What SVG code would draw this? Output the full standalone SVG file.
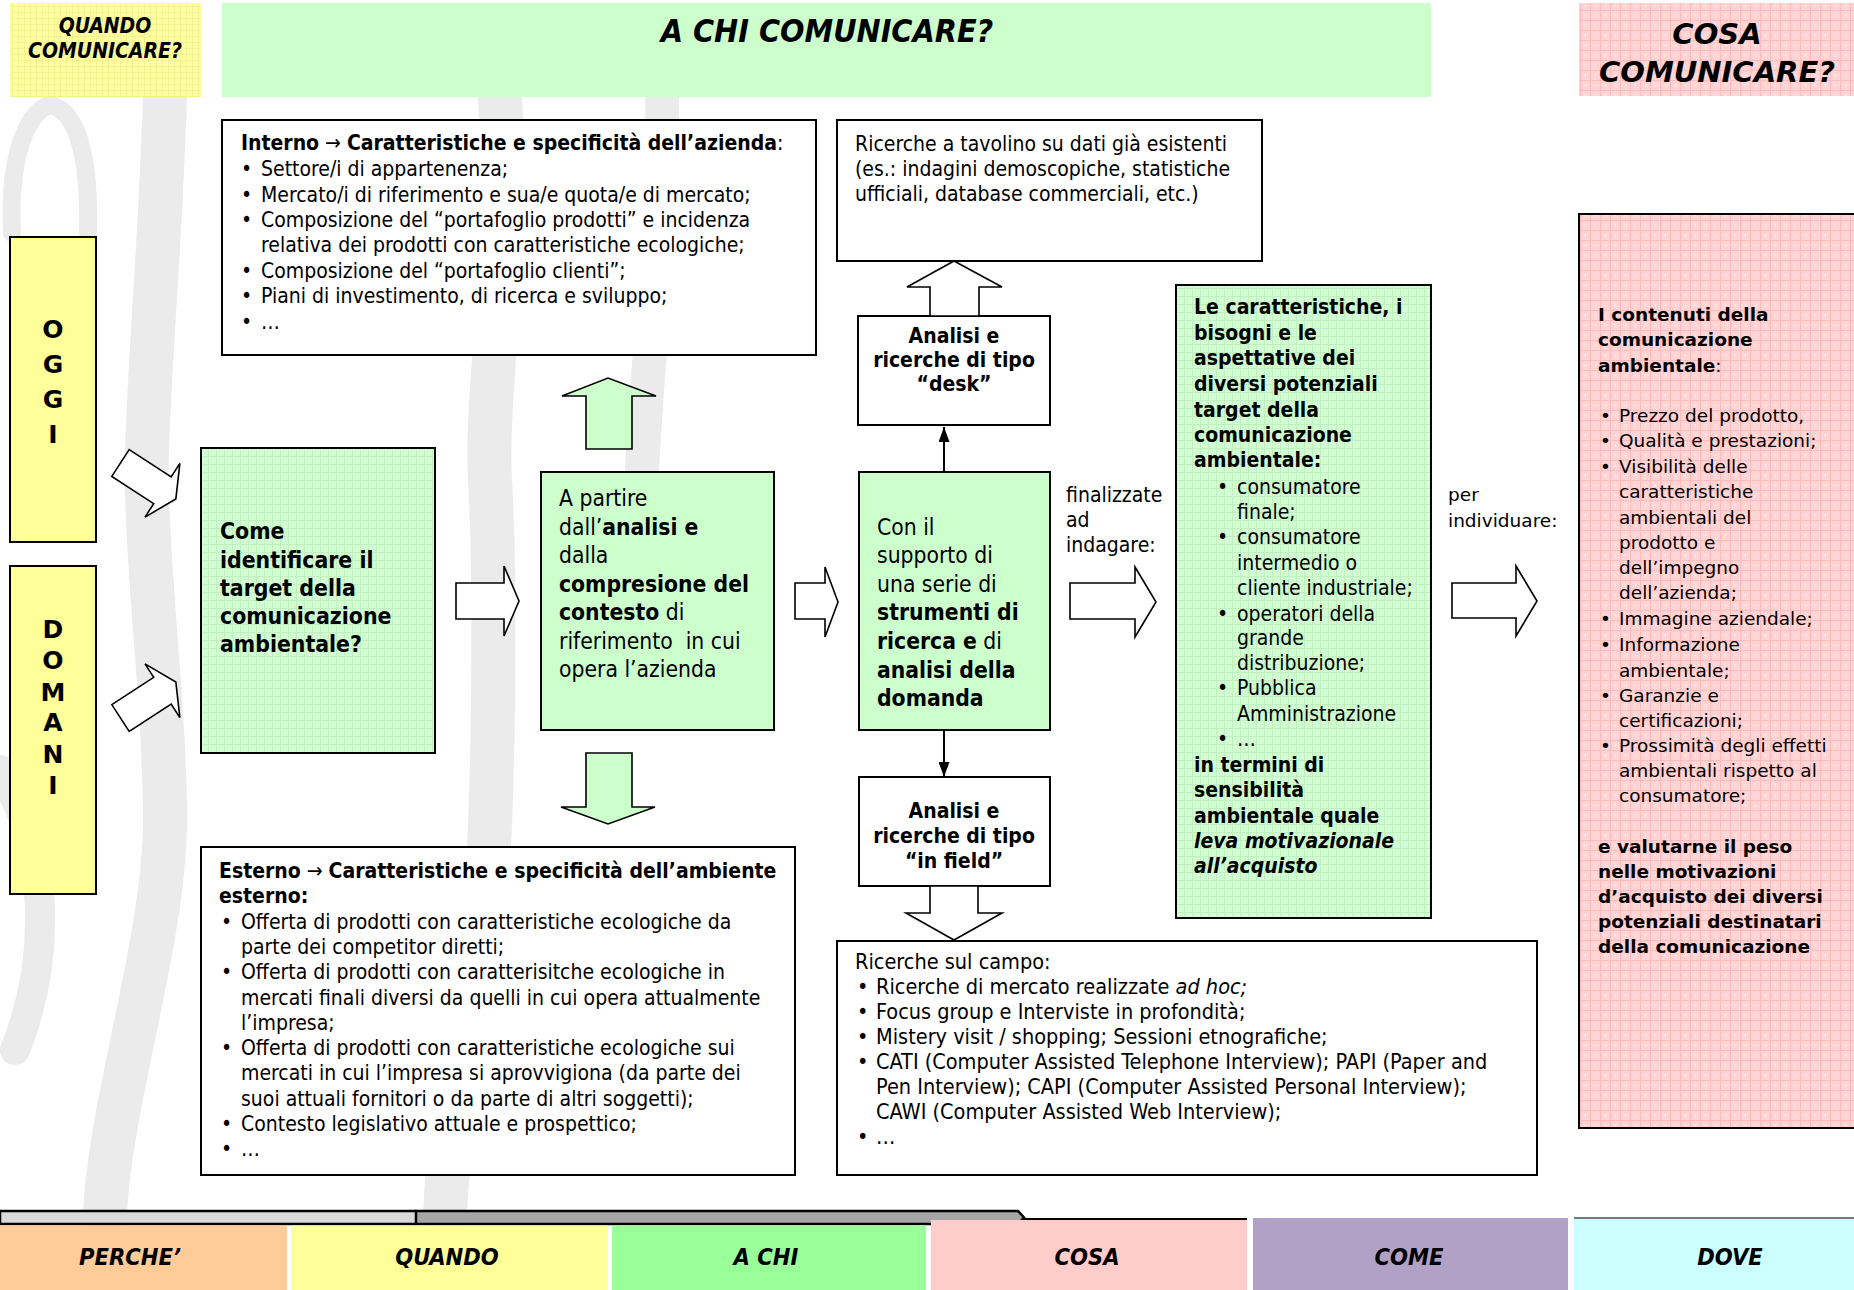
<svg xmlns="http://www.w3.org/2000/svg" width="1854" height="1290" viewBox="0 0 1854 1290">
<defs>
  <pattern id="pg" width="8" height="8" patternUnits="userSpaceOnUse"><rect width="8" height="8" fill="#d2fcd2"/><path d="M0 0.5H8M0.5 0V8" stroke="#c0f0c0" stroke-width="1"/></pattern>
  <pattern id="pp" width="10" height="10" patternUnits="userSpaceOnUse"><rect width="10" height="10" fill="#ffd4d4"/><path d="M0 0.5H10M0.5 0V10" stroke="#ffbcbc" stroke-width="1"/><circle cx="5.5" cy="5.5" r="0.9" fill="#ffffff" opacity="0.6"/></pattern>
  <pattern id="py" width="6" height="6" patternUnits="userSpaceOnUse"><rect width="6" height="6" fill="#ffffa0"/><path d="M0 0.5H6M0.5 0V6" stroke="#f2f290" stroke-width="1"/></pattern>
  <marker id="ah" viewBox="0 0 10 10" refX="10" refY="5" markerWidth="15" markerHeight="11" markerUnits="userSpaceOnUse" orient="auto" preserveAspectRatio="none"><path d="M0,0 L10,5 L0,10 z" fill="#000"/></marker>
</defs>
<style>
  .t{font-family:'DejaVu Sans Condensed','DejaVu Sans','Liberation Sans',sans-serif;font-stretch:condensed;font-size:21px;fill:#000}
  .v{font-family:'DejaVu Sans','Liberation Sans',sans-serif;font-size:18.5px;fill:#000}
  .b{font-weight:bold}
  .i{font-style:italic}
  .box{stroke:#000;stroke-width:2}
  .blk{fill:#fff;stroke:#000;stroke-width:1.6;stroke-linejoin:miter}
  .gar{fill:#ccffcc;stroke:#000;stroke-width:1.6}
  .c{text-anchor:middle}
  .wm{fill:none;stroke:#ebebeb;stroke-linecap:round}
</style>
<rect width="1854" height="1290" fill="#fff"/>

<!-- faint background watermark -->
<g id="watermark">
  <path class="wm" stroke-width="18" d="M12 233 C8 150 30 110 50 105 C75 110 90 150 88 233"/>
  <path class="wm" stroke-width="44" d="M165 97 C160 250 150 350 147 450 S165 700 165 820 S110 1100 105 1215"/>
  <path class="wm" stroke-width="44" d="M500 97 C510 250 485 400 490 480 S495 800 485 900 S450 1100 445 1215"/>
  <path class="wm" stroke-width="34" d="M662 97 C665 250 645 350 640 520"/>
  <path class="wm" stroke-width="30" d="M0 770 C45 840 55 950 15 1050"/>
</g>

<!-- headers -->
<g id="hdr-quando">
  <rect x="10" y="3" width="191" height="94" fill="url(#py)"/>
  <text class="t b i c" x="105" y="33">QUANDO</text>
  <text class="t b i c" x="105" y="58">COMUNICARE?</text>
</g>
<g id="hdr-achi">
  <rect x="222" y="3" width="1209" height="94" fill="#ccffcc"/>
  <text class="t b i c" x="827" y="42" style="font-size:32px">A CHI COMUNICARE?</text>
</g>
<g id="hdr-cosa">
  <rect x="1579" y="3" width="275" height="93" fill="url(#pp)"/>
  <text class="v b i c" x="1717" y="44" style="font-size:29px">COSA</text>
  <text class="v b i c" x="1717" y="82" style="font-size:29px">COMUNICARE?</text>
</g>

<!-- time boxes -->
<g id="oggi">
  <rect class="box" x="10" y="237" width="86" height="305" fill="#ffff99"/>
  <g class="v b c" style="font-size:25px">
    <text x="53" y="338">O</text><text x="53" y="373">G</text><text x="53" y="408">G</text><text x="53" y="443">I</text>
  </g>
</g>
<g id="domani">
  <rect class="box" x="10" y="566" width="86" height="328" fill="#ffff99"/>
  <g class="v b c" style="font-size:25px">
    <text x="53" y="638">D</text><text x="53" y="669">O</text><text x="53" y="701">M</text><text x="53" y="731">A</text><text x="53" y="763">N</text><text x="53" y="794">I</text>
  </g>
</g>

<!-- nodes -->
<g id="come">
  <rect class="box" x="201" y="448" width="234" height="305" fill="url(#pg)"/>
  <g class="t b" style="font-size:22.8px">
    <text x="220" y="539">Come</text>
    <text x="220" y="568">identificare il</text>
    <text x="220" y="596">target della</text>
    <text x="220" y="624">comunicazione</text>
    <text x="220" y="652">ambientale?</text>
  </g>
</g>

<g id="apartire">
  <rect class="box" x="541" y="472" width="233" height="258" fill="#ccffcc"/>
  <g class="t" style="font-size:22.7px">
    <text x="559" y="506">A partire</text>
    <text x="559" y="535">dall’<tspan class="b">analisi e</tspan></text>
    <text x="559" y="563">dalla</text>
    <text x="559" y="592" class="b">compresione del</text>
    <text x="559" y="620"><tspan class="b">contesto</tspan> di</text>
    <text x="559" y="649" xml:space="preserve">riferimento  in cui</text>
    <text x="559" y="677">opera l’azienda</text>
  </g>
</g>

<g id="conil">
  <rect class="box" x="859" y="472" width="191" height="258" fill="#ccffcc"/>
  <g class="t" style="font-size:22.7px">
    <text x="877" y="535">Con il</text>
    <text x="877" y="563">supporto di</text>
    <text x="877" y="592">una serie di</text>
    <text x="877" y="620" class="b">strumenti di</text>
    <text x="877" y="649"><tspan class="b">ricerca e</tspan> di</text>
    <text x="877" y="678" class="b">analisi della</text>
    <text x="877" y="706" class="b">domanda</text>
  </g>
</g>

<g id="desk">
  <rect class="box" x="858" y="316" width="192" height="109" fill="#fff"/>
  <g class="t b c">
    <text x="954" y="343">Analisi e</text>
    <text x="954" y="367">ricerche di tipo</text>
    <text x="954" y="391">“desk”</text>
  </g>
</g>

<g id="infield">
  <rect class="box" x="859" y="777" width="191" height="109" fill="#fff"/>
  <g class="t b c">
    <text x="954" y="818">Analisi e</text>
    <text x="954" y="843">ricerche di tipo</text>
    <text x="954" y="868">“in field”</text>
  </g>
</g>

<g id="tavolino">
  <rect class="box" x="837" y="120" width="425" height="141" fill="#fff"/>
  <g class="t">
    <text x="855" y="151">Ricerche a tavolino su dati già esistenti</text>
    <text x="855" y="176">(es.: indagini demoscopiche, statistiche</text>
    <text x="855" y="201">ufficiali, database commerciali, etc.)</text>
  </g>
</g>

<g id="interno">
  <rect class="box" x="222" y="120" width="594" height="235" fill="#fff"/>
  <g class="t">
    <text x="241" y="150"><tspan class="b">Interno</tspan> → <tspan class="b">Caratteristiche e specificità dell’azienda</tspan>:</text>
    <text x="241" y="176">•</text><text x="261" y="176">Settore/i di appartenenza;</text>
    <text x="241" y="202">•</text><text x="261" y="202">Mercato/i di riferimento e sua/e quota/e di mercato;</text>
    <text x="241" y="227">•</text><text x="261" y="227">Composizione del “portafoglio prodotti” e incidenza</text>
    <text x="261" y="252">relativa dei prodotti con caratteristiche ecologiche;</text>
    <text x="241" y="278">•</text><text x="261" y="278">Composizione del “portafoglio clienti”;</text>
    <text x="241" y="303">•</text><text x="261" y="303">Piani di investimento, di ricerca e sviluppo;</text>
    <text x="241" y="329">•</text><text x="261" y="329">…</text>
  </g>
</g>

<g id="esterno">
  <rect class="box" x="201" y="847" width="594" height="328" fill="#fff"/>
  <g class="t">
    <text x="219" y="878"><tspan class="b">Esterno</tspan> → <tspan class="b">Caratteristiche e specificità dell’ambiente</tspan></text>
    <text x="219" y="903" class="b">esterno:</text>
    <text x="221" y="929">•</text><text x="241" y="929">Offerta di prodotti con caratteristiche ecologiche da</text>
    <text x="241" y="954">parte dei competitor diretti;</text>
    <text x="221" y="979">•</text><text x="241" y="979">Offerta di prodotti con caratterisitche ecologiche in</text>
    <text x="241" y="1005">mercati finali diversi da quelli in cui opera attualmente</text>
    <text x="241" y="1030">l’impresa;</text>
    <text x="221" y="1055">•</text><text x="241" y="1055">Offerta di prodotti con caratteristiche ecologiche sui</text>
    <text x="241" y="1080">mercati in cui l’impresa si aprovvigiona (da parte dei</text>
    <text x="241" y="1106">suoi attuali fornitori o da parte di altri soggetti);</text>
    <text x="221" y="1131">•</text><text x="241" y="1131">Contesto legislativo attuale e prospettico;</text>
    <text x="221" y="1156">•</text><text x="241" y="1156">…</text>
  </g>
</g>

<g id="campo">
  <rect class="box" x="837" y="941" width="700" height="234" fill="#fff"/>
  <g class="t" style="font-size:21.5px">
    <text x="855" y="969">Ricerche sul campo:</text>
    <text x="857" y="994">•</text><text x="876" y="994">Ricerche di mercato realizzate <tspan class="i">ad hoc;</tspan></text>
    <text x="857" y="1019">•</text><text x="876" y="1019">Focus group e Interviste in profondità;</text>
    <text x="857" y="1044">•</text><text x="876" y="1044">Mistery visit / shopping; Sessioni etnografiche;</text>
    <text x="857" y="1069">•</text><text x="876" y="1069">CATI (Computer Assisted Telephone Interview); PAPI (Paper and</text>
    <text x="876" y="1094">Pen Interview); CAPI (Computer Assisted Personal Interview);</text>
    <text x="876" y="1119">CAWI (Computer Assisted Web Interview);</text>
    <text x="857" y="1144">•</text><text x="876" y="1144">…</text>
  </g>
</g>

<g id="target">
  <rect class="box" x="1176" y="285" width="255" height="633" fill="url(#pg)"/>
  <g class="t">
    <g class="b">
      <text x="1194" y="314">Le caratteristiche, i</text>
      <text x="1194" y="340">bisogni e le</text>
      <text x="1194" y="365">aspettative dei</text>
      <text x="1194" y="391">diversi potenziali</text>
      <text x="1194" y="417">target della</text>
      <text x="1194" y="442">comunicazione</text>
      <text x="1194" y="467">ambientale:</text>
    </g>
    <text x="1217" y="494">•</text><text x="1237" y="494">consumatore</text>
    <text x="1237" y="519">finale;</text>
    <text x="1217" y="544">•</text><text x="1237" y="544">consumatore</text>
    <text x="1237" y="570">intermedio o</text>
    <text x="1237" y="595">cliente industriale;</text>
    <text x="1217" y="621">•</text><text x="1237" y="621">operatori della</text>
    <text x="1237" y="645">grande</text>
    <text x="1237" y="670">distribuzione;</text>
    <text x="1217" y="695">•</text><text x="1237" y="695">Pubblica</text>
    <text x="1237" y="721">Amministrazione</text>
    <text x="1217" y="746">•</text><text x="1237" y="746">…</text>
    <g class="b">
      <text x="1194" y="772">in termini di</text>
      <text x="1194" y="797">sensibilità</text>
      <text x="1194" y="823">ambientale quale</text>
      <text x="1194" y="848" class="i">leva motivazionale</text>
      <text x="1194" y="873" class="i">all’acquisto</text>
    </g>
  </g>
</g>

<g id="contenuti">
  <path d="M1854 214 H1579 V1128 H1854" fill="url(#pp)" stroke="#000" stroke-width="2"/>
  <g class="v">
    <text x="1598" y="321" class="b">I contenuti della</text>
    <text x="1598" y="346" class="b">comunicazione</text>
    <text x="1598" y="372"><tspan class="b">ambientale</tspan>:</text>
    <text x="1600" y="422">•</text><text x="1619" y="422">Prezzo del prodotto,</text>
    <text x="1600" y="447">•</text><text x="1619" y="447">Qualità e prestazioni;</text>
    <text x="1600" y="473">•</text><text x="1619" y="473">Visibilità delle</text>
    <text x="1619" y="498">caratteristiche</text>
    <text x="1619" y="524">ambientali del</text>
    <text x="1619" y="549">prodotto e</text>
    <text x="1619" y="574">dell’impegno</text>
    <text x="1619" y="599">dell’azienda;</text>
    <text x="1600" y="625">•</text><text x="1619" y="625">Immagine aziendale;</text>
    <text x="1600" y="651">•</text><text x="1619" y="651">Informazione</text>
    <text x="1619" y="677">ambientale;</text>
    <text x="1600" y="702">•</text><text x="1619" y="702">Garanzie e</text>
    <text x="1619" y="727">certificazioni;</text>
    <text x="1600" y="752">•</text><text x="1619" y="752">Prossimità degli effetti</text>
    <text x="1619" y="777">ambientali rispetto al</text>
    <text x="1619" y="802">consumatore;</text>
    <g class="b">
      <text x="1598" y="853">e valutarne il peso</text>
      <text x="1598" y="878">nelle motivazioni</text>
      <text x="1598" y="903">d’acquisto dei diversi</text>
      <text x="1598" y="928">potenziali destinatari</text>
      <text x="1598" y="953">della comunicazione</text>
    </g>
  </g>
</g>

<!-- connectors -->
<g id="connectors">
  <polygon class="blk" transform="translate(120.5,463) rotate(33)" points="0,-16 50,-16 50,-32 66,0 50,32 50,16 0,16"/>
  <polygon class="blk" transform="translate(120.5,718) rotate(-33)" points="0,-16 50,-16 50,-32 66,0 50,32 50,16 0,16"/>
  <polygon class="blk" points="456,583 504,583 504,566 519,601 504,636 504,619 456,619"/>
  <polygon class="blk" points="795,583 825,583 825,567 838,602 825,637 825,619 795,619"/>
  <polygon class="blk" points="1070,583 1135,583 1135,567 1156,602 1135,637 1135,619 1070,619"/>
  <polygon class="blk" points="1452,583 1516,583 1516,566 1537,601 1516,636 1516,618 1452,618"/>
  <polygon class="gar" points="586,449 586,396 562,396 608,378 656,396 632,396 632,449"/>
  <polygon class="gar" points="586,753 632,753 632,807 655,807 608,824 561,807 586,807"/>
  <polygon class="blk" points="930,316 930,287 907,287 954,261 1002,287 979,287 979,316"/>
  <polygon class="blk" points="930,886 978,886 978,913 1002,913 954,940 906,913 930,913"/>
  <line x1="944" y1="472" x2="944" y2="427" stroke="#000" stroke-width="2" marker-end="url(#ah)"/>
  <line x1="944" y1="730" x2="944" y2="777" stroke="#000" stroke-width="2" marker-end="url(#ah)"/>
  <g class="t">
    <text x="1066" y="502">finalizzate</text>
    <text x="1066" y="527">ad</text>
    <text x="1066" y="552">indagare:</text>
  </g>
  <g class="v">
    <text x="1448" y="501">per</text>
    <text x="1448" y="527">individuare:</text>
  </g>
</g>

<!-- bottom navigation -->
<g id="nav">
  <polygon points="0,1211 416,1211 422,1217.5 416,1224 0,1224" fill="#d9d9d9" stroke="#000" stroke-width="2.5"/>
  <polygon points="416,1211 1018,1211 1024,1217.5 1018,1224 416,1224" fill="#a6a6a6" stroke="#000" stroke-width="2.5"/>
  <rect x="0" y="1225.5" width="287" height="65" fill="#ffcc99"/>
  <rect x="291" y="1225.5" width="317" height="65" fill="#ffff99"/>
  <rect x="612" y="1225.5" width="314" height="65" fill="#99ff99"/>
  <rect x="931" y="1220" width="316" height="70" fill="#ffcccc"/>
  <line x1="1022" y1="1219" x2="1247" y2="1219" stroke="#000" stroke-width="2"/>
  <rect x="1253" y="1218" width="315" height="72" fill="#b2a1c7"/>
  <rect x="1574" y="1218" width="280" height="72" fill="#ccffff"/>
  <line x1="1574" y1="1218" x2="1854" y2="1218" stroke="#777" stroke-width="2"/>
  <g class="t b i c" style="font-size:23.5px">
    <text x="130" y="1265">PERCHE’</text>
    <text x="447" y="1265">QUANDO</text>
    <text x="766" y="1265">A CHI</text>
    <text x="1087" y="1265">COSA</text>
    <text x="1409" y="1265">COME</text>
    <text x="1730" y="1265">DOVE</text>
  </g>
</g>
</svg>
